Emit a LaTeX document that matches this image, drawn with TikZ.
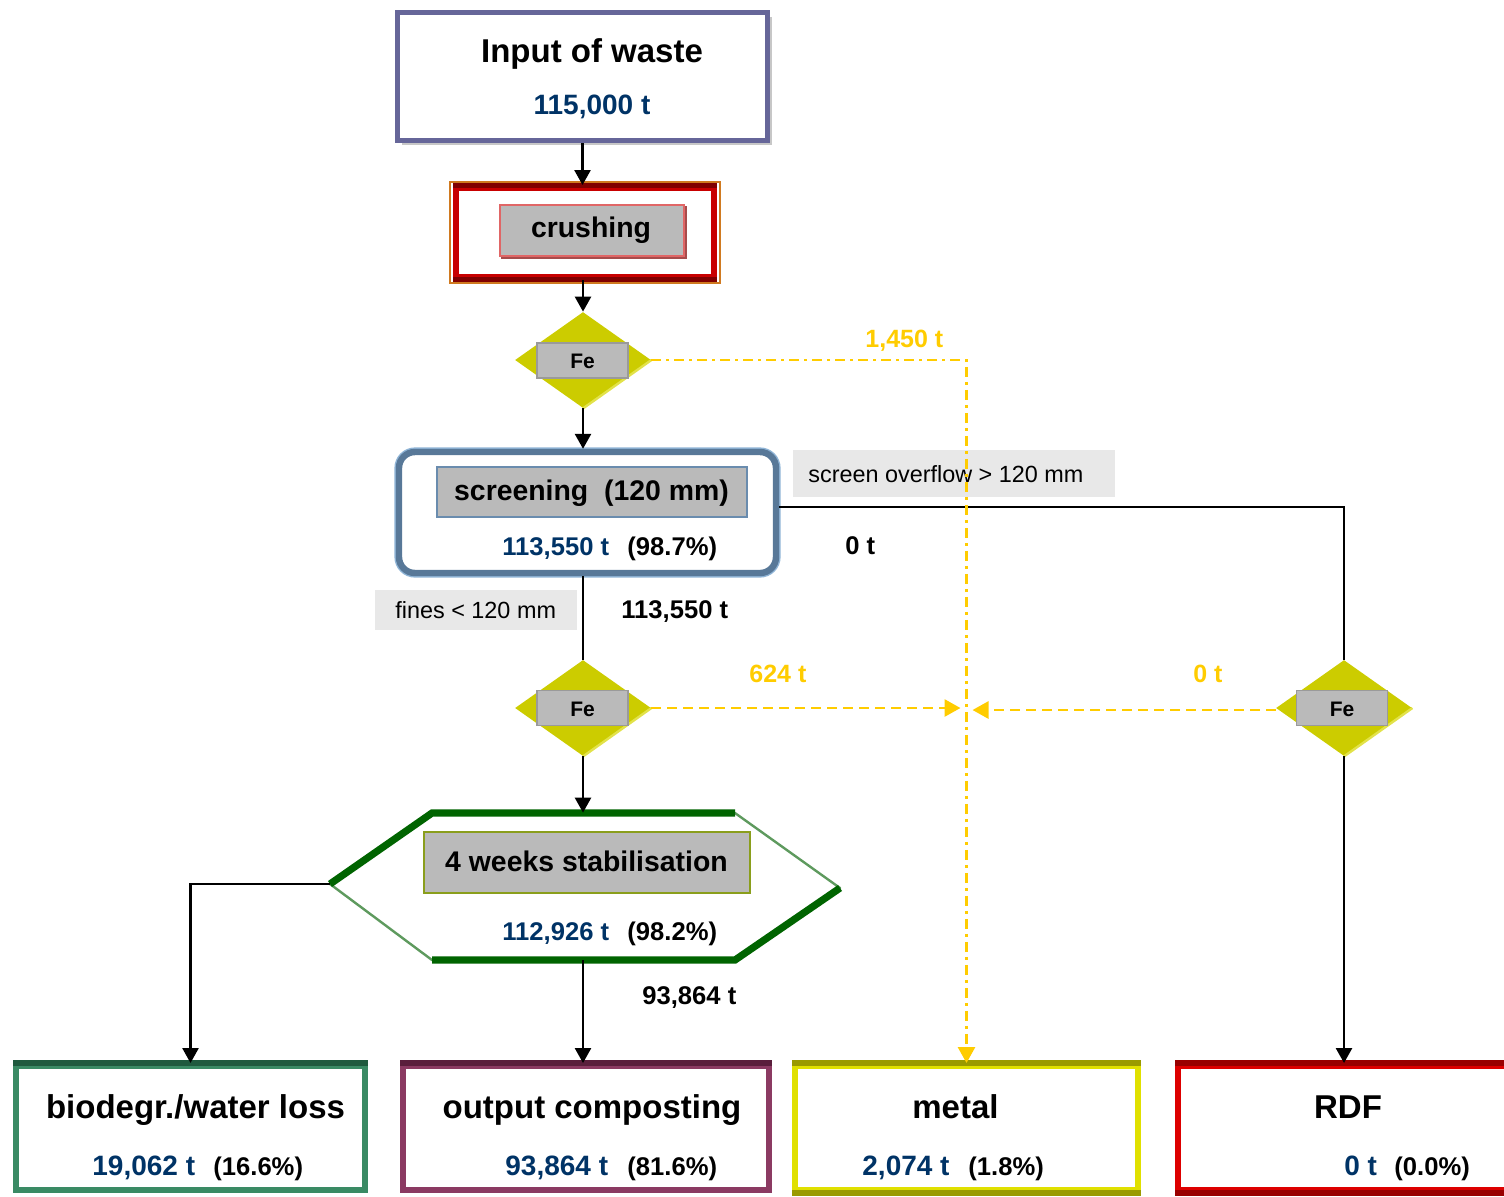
\documentclass[tikz,border=0pt]{standalone}
\usepackage{fontspec}
\setmainfont{Liberation Sans}
\usetikzlibrary{shapes.geometric,arrows.meta,shadows,calc}
\definecolor{navy}{HTML}{003366}
\definecolor{gold}{HTML}{FFCC00}
\definecolor{olivey}{HTML}{CCCC00}
\definecolor{olivelt}{HTML}{E2E24A}
\definecolor{panel}{HTML}{BABABA}
\definecolor{panelD}{HTML}{9A9A9A}
\definecolor{inputc}{HTML}{666699}
\definecolor{crred}{HTML}{C80000}
\definecolor{crdark}{HTML}{800000}
\definecolor{crorange}{HTML}{D07A20}
\definecolor{crpanel}{HTML}{E06666}
\definecolor{scrblue}{HTML}{587898}
\definecolor{scrlight}{HTML}{8FB4D6}
\definecolor{scrpanel}{HTML}{6A8CAE}
\definecolor{lab}{HTML}{E8E8E8}
\definecolor{hexdark}{HTML}{006400}
\definecolor{hexlight}{HTML}{5E9A5E}
\definecolor{stabol}{HTML}{8A9E1C}
\definecolor{bgreen}{HTML}{3A8A64}
\definecolor{bgreenD}{HTML}{1F5A3E}
\definecolor{bpurp}{HTML}{8B3A62}
\definecolor{bpurpD}{HTML}{5A1E3C}
\definecolor{byel}{HTML}{E0E000}
\definecolor{byelD}{HTML}{9A9A00}
\definecolor{bred}{HTML}{DD0000}
\definecolor{bredD}{HTML}{990000}
\begin{document}
\begin{tikzpicture}[x=0.5pt,y=-0.5pt,
  ttl/.style={font=\fontsize{16.5}{19}\selectfont\bfseries, inner sep=0pt},
  proc/.style={font=\fontsize{14.2}{17}\selectfont\bfseries, inner sep=0pt},
  fetxt/.style={font=\fontsize{10.5}{12}\selectfont\bfseries, inner sep=0pt},
  bignum/.style={text=navy, font=\fontsize{14}{16}\selectfont\bfseries, inner sep=0pt},
  midnum/.style={text=navy, font=\fontsize{12.8}{15}\selectfont\bfseries, inner sep=0pt},
  pct/.style={font=\fontsize{12.8}{15}\selectfont\bfseries, inner sep=0pt},
  flow/.style={font=\fontsize{12.8}{15}\selectfont\bfseries, inner sep=0pt},
  ylab/.style={text=gold, font=\fontsize{12.5}{15}\selectfont\bfseries, inner sep=0pt},
  note/.style={font=\fontsize{11.7}{14}\selectfont, inner sep=0pt},
  notebox/.style={fill=lab, inner sep=0pt},
  panelbox/.style={fill=panel, line width=1pt, inner sep=0pt},
  feshape/.style={diamond, fill=olivey, minimum width=68pt, minimum height=48pt, inner sep=0pt},
  fepanel/.style={panelbox, draw=panelD, line width=0.6pt, minimum width=45.5pt, minimum height=17.5pt},
  outbox/.style={fill=white, line width=3pt, minimum height=62pt, inner sep=0pt},
  conn/.style={line width=1.3pt, black},
  arr/.style={conn, -{Triangle[length=7.5pt,width=8pt]}},
  yarr/.style={line width=1.4pt, gold, -{Triangle[length=8pt,width=8.5pt]}},
  dashdotpat/.style={dash pattern=on 5pt off 2.5pt on 1.5pt off 2.5pt},
  dashpat/.style={dash pattern=on 5pt off 3pt}
]
\useasboundingbox (0,0) rectangle (1504,1196);
\clip (0,0) rectangle (1504,1196);

% ---------- input ----------
\node[draw=inputc, line width=2.5pt, fill=white, minimum width=185pt, minimum height=64pt,
  drop shadow={shadow xshift=2.2pt, shadow yshift=-2.2pt, fill=black!22, opacity=1}] (input) at (582.5,76.5) {};
\node[ttl, anchor=base] (inT) at (592,62) {Input of waste};
\node[bignum, anchor=base] (inN) at (592,114) {115,000 t};

% ---------- crushing ----------
\node[draw=crred, line width=3pt, fill=white, minimum width=129pt, minimum height=44.5pt] (crush) at (585,232.5) {};
\draw[crdark, line width=3pt] (crush.north west) -- (crush.north east);
\draw[crdark, line width=3pt] (crush.south west) -- (crush.south east);
\draw[crorange, line width=0.6pt] ($(crush.north west)+(-3,-3)$) rectangle ($(crush.south east)+(3,3)$);
\node[panelbox, draw=crpanel, minimum width=92pt, minimum height=25.5pt] (crushP) at (592,230.5) {};
\draw[crdark!70, line width=1pt] ($(crushP.south west)+(2,1)$) -- ($(crushP.south east)+(1,1)$) -- ($(crushP.north east)+(1,2)$);
\node[proc, anchor=base] (crushT) at (591,237) {crushing};

% ---------- Fe diamonds ----------
\node[feshape] (fe1) at (583,360) {};
\node[feshape] (fe2) at (583,708) {};
\node[feshape] (fe3) at (1344,708) {};
\foreach \f in {fe1,fe2,fe3}{
  \draw[olivelt, line width=1.2pt] (\f.east) -- (\f.south);
}
\node[fepanel] (fe1P) at (582.5,360.5) {};
\node[fepanel] (fe2P) at (582.5,708) {};
\node[fepanel] (fe3P) at (1342,708) {};
\node[fetxt, anchor=base] (fe1T) at (582.5,368) {Fe};
\node[fetxt, anchor=base] (fe2T) at (582.5,716) {Fe};
\node[fetxt, anchor=base] (fe3T) at (1342,716) {Fe};

% ---------- screening ----------
\node[draw=scrblue, line width=3.2pt, rounded corners=8pt, fill=white, minimum width=188.5pt, minimum height=60.5pt,
  preaction={draw=scrlight, line width=4.6pt}] (screen) at (587.5,512.5) {};
\node[panelbox, draw=scrpanel, minimum width=155pt, minimum height=25pt] (screenP) at (592,492) {};
\node[proc, anchor=base] (screenT) at (591.5,500) {screening\ \ (120 mm)};
\node[midnum, anchor=base west] (screenN) at (502,555) {113,550 t};
\node[pct, anchor=base west] (screenPc) at (627,555) {(98.7\%)};

% ---------- notes ----------
\node[notebox, minimum width=161pt, minimum height=23.5pt] (ovfB) at (954,473.5) {};
\node[note, anchor=base west] (ovfT) at (808,482) {screen overflow > 120 mm};
\node[flow, anchor=base west] (ovfN) at (845,554) {0 t};
\node[notebox, minimum width=101pt, minimum height=20pt] (finB) at (476,610) {};
\node[note, anchor=base west] (finT) at (395,618) {fines < 120 mm};
\node[flow, anchor=base west] (finN) at (621,618) {113,550 t};

% ---------- stabilisation hexagon ----------
\node[minimum width=255pt, minimum height=73.5pt, inner sep=0pt] (stab) at (585,886.5) {};
\coordinate (hW) at (330,884);
\coordinate (hNW) at (432,813);
\coordinate (hNE) at (735,813);
\coordinate (hE) at (840,888);
\coordinate (hSE) at (735,960);
\coordinate (hSW) at (432,960);
\fill[white] (hW) -- (hNW) -- (hNE) -- (hE) -- (hSE) -- (hSW) -- cycle;
\draw[hexlight, line width=1.2pt, line join=round] (hW) -- (hNW) -- (hNE) -- (hE) -- (hSE) -- (hSW) -- cycle;
\draw[hexdark, line width=3.6pt, line join=miter] (hW) -- (hNW) -- (hNE);
\draw[hexdark, line width=3.6pt, line join=miter] (hSW) -- (hSE) -- (hE);
\node[panelbox, draw=stabol, minimum width=163pt, minimum height=30.5pt] (stabP) at (587,862.5) {};
\node[proc, anchor=base] (stabT) at (586.5,871) {4 weeks stabilisation};
\node[midnum, anchor=base west] (stabN) at (502,940) {112,926 t};
\node[pct, anchor=base west] (stabPc) at (627,940) {(98.2\%)};
\node[flow, anchor=base west] (outFlow) at (642,1004) {93,864 t};

% ---------- yellow labels ----------
\node[ylab, anchor=base west] (y1) at (865,347) {1,450 t};
\node[ylab, anchor=base west] (y2) at (749,682) {624 t};
\node[ylab, anchor=base west] (y3) at (1193,682) {0 t};

% ---------- bottom boxes ----------
\node[outbox, draw=bgreen, minimum width=174.5pt] (bio) at (190.5,1128) {};
\draw[bgreenD, line width=3pt] (bio.north west) -- (bio.north east);
\node[outbox, draw=bpurp, minimum width=183pt] (out) at (586,1128) {};
\draw[bpurpD, line width=3pt] (out.north west) -- (out.north east);
\node[outbox, draw=byel, minimum width=171.5pt] (metal) at (966.5,1128) {};
\draw[byelD, line width=3pt] (metal.north west) -- (metal.north east);
\draw[byelD, line width=3pt] (metal.south west) -- (metal.south east);
\node[outbox, draw=bred, minimum width=170pt] (rdf) at (1348,1128) {};
\draw[bredD, line width=3pt] (rdf.north west) -- (rdf.north east);
\draw[bredD, line width=3pt] (rdf.south west) -- (rdf.south east);

\node[ttl, anchor=base] (bioT) at (195.5,1118) {biodegr./water loss};
\node[bignum, anchor=base west] (bioN) at (92,1175) {19,062 t};
\node[pct, anchor=base west] (bioPc) at (213,1175) {(16.6\%)};
\node[ttl, anchor=base] (outT) at (592,1118) {output composting};
\node[bignum, anchor=base west] (outN) at (505,1175) {93,864 t};
\node[pct, anchor=base west] (outPc) at (627,1175) {(81.6\%)};
\node[ttl, anchor=base] (metT) at (955.5,1118) {metal};
\node[bignum, anchor=base west] (metN) at (862,1175) {2,074 t};
\node[pct, anchor=base west] (metPc) at (968,1175) {(1.8\%)};
\node[ttl, anchor=base] (rdfT) at (1348,1118) {RDF};
\node[bignum, anchor=base west] (rdfN) at (1344,1175) {0 t};
\node[pct, anchor=base west] (rdfPc) at (1394,1175) {(0.0\%)};

% ---------- connectors ----------
\draw[arr] (input.south) -- (input.south |- crush.north);
\draw[arr] (fe1.north |- crush.south) -- (fe1.north);
\draw[arr] (fe1.south) -- (fe1.south |- screen.north);
\draw[conn] (fe2.north |- screen.south) -- (fe2.north);
\draw[conn] ($(screen.east)+(0,-5.5)$) -| (fe3.north);
\draw[arr] (fe2.south) -- (fe2.south |- stab.north);
\draw[arr] (hW) -| (bio.north);
\draw[arr] (fe2.south |- stab.south) -- (fe2.south |- out.north);
\draw[arr] (fe3.south) -- (fe3.south |- rdf.north);

\coordinate (jL) at ($(metal.north |- fe2.east)+(-6,0)$);
\coordinate (jR) at ($(metal.north |- fe3.west)+(6,2)$);
\draw[yarr, dashdotpat] (fe1.east) -| (metal.north);
\draw[yarr, dashpat] (fe2.east) -- (jL);
\draw[yarr, dashpat] ($(fe3.west)+(0,2)$) -- (jR);
\end{tikzpicture}
\end{document}
